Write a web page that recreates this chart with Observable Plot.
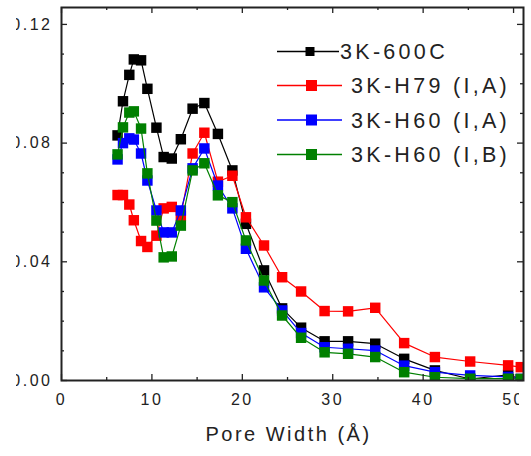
<!DOCTYPE html>
<html><head><meta charset="utf-8">
<script src="https://cdn.jsdelivr.net/npm/d3@7"></script>
<script src="https://cdn.jsdelivr.net/npm/@observablehq/plot@0.6"></script>
<style>
body{margin:0;background:#fff;}
#chart svg{letter-spacing:2.5px;}
#chart svg text{font-family:"Liberation Sans",Arial,sans-serif;fill:#222;}
</style></head><body><div id="chart"></div>
<script>
const poreWidth = [6.2, 6.8, 7.5, 8.0, 8.8, 9.5, 10.5, 11.3, 12.2, 13.2, 14.5, 15.8, 17.3, 18.9, 20.4, 22.4, 24.4, 26.5, 29.1, 31.7, 34.7, 37.9, 41.3, 45.2, 49.4, 50.8];
const series = ["3K-600C", "3K-H79 (I,A)", "3K-H60 (I,A)", "3K-H60 (I,B)"];
const colors = ["#000000", "#ff0000", "#0000ff", "#008000"];
const v600C  = [0.0826,0.0941,0.1030,0.1082,0.1079,0.0983,0.0852,0.0753,0.0748,0.0813,0.0916,0.0935,0.0831,0.0708,0.0528,0.0371,0.0243,0.0178,0.0132,0.0132,0.0124,0.0073,0.0034,0.0005,0.0019,0.0005];
const vH79IA = [0.0625,0.0625,0.0593,0.0540,0.0470,0.0450,0.0488,0.0580,0.0585,0.0555,0.0765,0.0835,0.0670,0.0690,0.0550,0.0455,0.0348,0.0300,0.0234,0.0233,0.0245,0.0126,0.0079,0.0064,0.0051,0.0045];
const vH60IA = [0.0745,0.0800,0.0816,0.0812,0.0765,0.0674,0.0573,0.0499,0.0499,0.0573,0.0715,0.0782,0.0657,0.0580,0.0444,0.0314,0.0236,0.0160,0.0112,0.0107,0.0101,0.0050,0.0028,0.0017,0.0012,0.0005];
const vH60IB = [0.0762,0.0853,0.0903,0.0907,0.0849,0.0698,0.0539,0.0415,0.0418,0.0522,0.0708,0.0732,0.0624,0.0601,0.0472,0.0337,0.0219,0.0144,0.0095,0.0090,0.0079,0.0028,0.0011,0.0006,0.0006,0.0005];
const xMajor = [0, 10, 20, 30, 40, 50];
const xMinor = [5, 15, 25, 35, 45];
const xTickLabels = ["0", "10", "20", "30", "40", "50"];
const yMajor = [0, 0.04, 0.08, 0.12];
const yMinor = [0.01, 0.02, 0.03, 0.05, 0.06, 0.07, 0.09, 0.10, 0.11];
const yTickLabels = ["0.00", "0.04", "0.08", "0.12"];
const xTitle = "Pore Width (Å)";

const values = [v600C, vH79IA, vH60IA, vH60IB];
const rows = series.map((s, i) => poreWidth.map((x, j) => ({s, x, y: values[i][j]})));

const W = 531, H = 456, mL = 61, mR = 8, mT = 7, mB = 76;
const innerW = W - mL - mR, innerH = H - mT - mB;
const tk = {stroke: "#222", strokeWidth: 1.3};

const seriesMarks = rows.flatMap((data, i) => [
  Plot.line(data, {x: "x", y: "y", stroke: colors[i], strokeWidth: 1.2, clip: true}),
  Plot.dot(data, {x: "x", y: "y", fill: colors[i], symbol: "square", r: 5.9, clip: true})
]);

const svg = Plot.plot({
  width: W, height: H,
  marginLeft: mL, marginRight: mR, marginTop: mT, marginBottom: mB,
  x: {domain: [0, 51.1]},
  y: {domain: [0, 0.1257]},
  style: {background: "#fff", color: "#222"},
  marks: [
    ...seriesMarks,
    Plot.tickX(xMajor, {x: d => d, insetTop: innerH - 6, ...tk}),
    Plot.tickX(xMinor, {x: d => d, insetTop: innerH - 3, ...tk}),
    Plot.tickX(xMajor, {x: d => d, insetBottom: innerH - 6, ...tk}),
    Plot.tickX(xMinor, {x: d => d, insetBottom: innerH - 3, ...tk}),
    Plot.tickY(yMajor, {y: d => d, insetRight: innerW - 6, ...tk}),
    Plot.tickY(yMinor, {y: d => d, insetRight: innerW - 3, ...tk}),
    Plot.tickY(yMajor, {y: d => d, insetLeft: innerW - 6, ...tk}),
    Plot.tickY(yMinor, {y: d => d, insetLeft: innerW - 3, ...tk}),
    Plot.frame({stroke: "#222", strokeWidth: 2}),
    Plot.axisX(xMajor, {tickSize: 0, tickPadding: 13, fontSize: 16, tickFormat: d => xTickLabels[xMajor.indexOf(d)], label: null}),
    Plot.axisY(yMajor, {tickSize: 0, tickPadding: 9, fontSize: 16, tickFormat: d => yTickLabels[yMajor.indexOf(d)], label: null}),
    Plot.text([xTitle], {text: d => d, frameAnchor: "bottom", dy: 60.5, dx: -4, fontSize: 20, fill: "#222"})
  ]
});

const s = d3.select(svg);
// cropped left edge (leading zeros partially hidden) and right label cut
s.append("rect").attr("x", 0).attr("y", 0).attr("width", 16).attr("height", 395).attr("fill", "#fff");
s.append("rect").attr("x", 519).attr("y", 385).attr("width", 12).attr("height", 30).attr("fill", "#fff");

// legend
const legendY = [51.5, 85.5, 120, 154.5];
const lg = s.append("g").attr("style", "letter-spacing:3.3px").attr("text-anchor", "start");
series.forEach((name, i) => {
  const y = legendY[i];
  const first = i === 0;
  const x2 = first ? 339 : 342;
  const side = first ? 9 : 11;
  const cx = first ? 310 : 311.5;
  lg.append("line").attr("x1", 277).attr("x2", x2).attr("y1", y).attr("y2", y)
    .attr("stroke", colors[i]).attr("stroke-width", 1.3);
  lg.append("rect").attr("x", cx - side / 2).attr("y", y - side / 2).attr("width", side).attr("height", side)
    .attr("fill", colors[i]);
  lg.append("text").attr("x", first ? 340 : 351).attr("y", y).attr("dy", "0.36em")
    .attr("text-anchor", "start").attr("font-size", 21.5).text(name);
});

document.getElementById("chart").appendChild(svg);
</script></body></html>
